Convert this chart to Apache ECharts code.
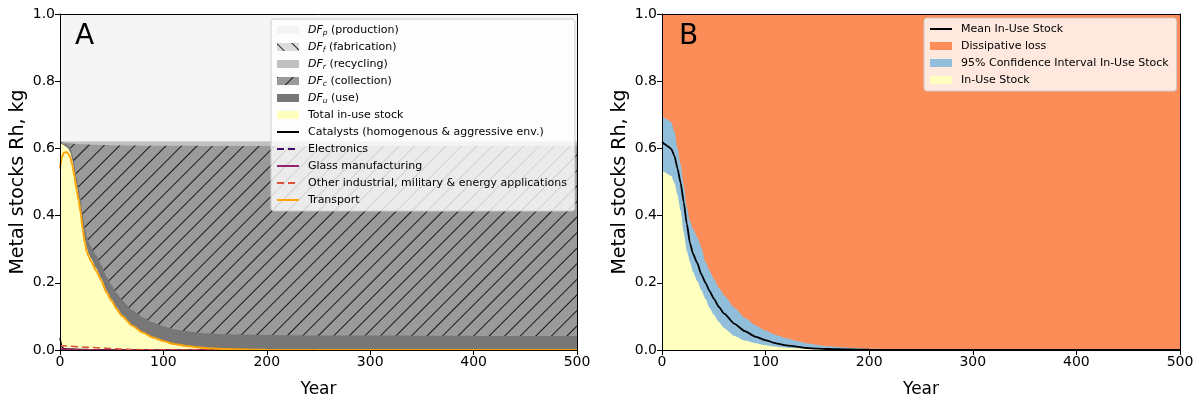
<!DOCTYPE html>
<html><head><meta charset="utf-8">
<script src="https://cdn.jsdelivr.net/npm/echarts@6/dist/echarts.min.js"></script>
<style>html,body{margin:0;padding:0;background:#fff}#c{width:1199px;height:407px}</style>
</head><body><div id="c"></div>
<script>
// ---------- Panel A data ----------
const yearsA = [0,2,4,6,8,10,12,14,16,18,20,22,24,26,28,30,35,40,45,50,55,60,70,80,90,100,110,120,130,140,160,180,200,250,300,400,500];
const totalInUse = [0.615,0.612,0.609,0.605,0.599,0.588,0.565,0.530,0.492,0.458,0.420,0.370,0.330,0.303,0.285,0.272,0.243,0.212,0.177,0.150,0.125,0.104,0.074,0.053,0.038,0.027,0.018,0.013,0.009,0.006,0.003,0.0015,0.0007,0,0,0,0];
const dfUse = [0,0.002,0.004,0.007,0.010,0.013,0.016,0.019,0.022,0.025,0.028,0.030,0.032,0.034,0.035,0.036,0.038,0.040,0.041,0.042,0.043,0.044,0.044,0.044,0.044,0.044,0.044,0.044,0.044,0.044,0.044,0.044,0.044,0.043,0.043,0.042,0.042];
const dfCollection = [0.005,0.005,0.005,0.005,0.007,0.014,0.033,0.065,0.099,0.130,0.164,0.212,0.250,0.275,0.291,0.303,0.330,0.358,0.392,0.417,0.441,0.461,0.491,0.511,0.526,0.537,0.546,0.551,0.555,0.557,0.560,0.5615,0.5623,0.564,0.564,0.565,0.565];
const dfRecycling = [0,0.001,0.002,0.003,0.004,0.005,0.006,0.006,0.007,0.007,0.008,0.008,0.008,0.008,0.009,0.009,0.009,0.010,0.010,0.011,0.011,0.011,0.011,0.012,0.012,0.012,0.012,0.012,0.012,0.013,0.013,0.013,0.013,0.013,0.013,0.013,0.013];
const dfFabrication = [0.002,0.002,0.002,0.002,0.002,0.002,0.002,0.002,0.002,0.002,0.002,0.002,0.002,0.002,0.002,0.002,0.002,0.002,0.002,0.002,0.002,0.002,0.002,0.002,0.002,0.002,0.002,0.002,0.002,0.002,0.002,0.002,0.002,0.002,0.002,0.002,0.002];
const dfProduction = [0.378,0.378,0.378,0.378,0.378,0.378,0.378,0.378,0.378,0.378,0.378,0.378,0.378,0.378,0.378,0.378,0.378,0.378,0.378,0.378,0.378,0.378,0.378,0.378,0.378,0.378,0.378,0.378,0.378,0.378,0.378,0.378,0.378,0.378,0.378,0.378,0.378];
const catalysts = [0.035,0.008,0.004,0.003,0.0025,0.002,0.002,0.002,0.0018,0.0016,0.0015,0.0014,0.0013,0.0012,0.0011,0.001,0.0008,0.0006,0.0005,0.0004,0.0003,0.0002,0.0001,0,0,0,0,0,0,0,0,0,0,0,0,0,0];
const electronics = [0.004,0.003,0.0025,0.002,0.0018,0.0015,0.0012,0.001,0.0008,0.0006,0.0005,0.0004,0.0003,0.0002,0.0001,0,0,0,0,0,0,0,0,0,0,0,0,0,0,0,0,0,0,0,0,0,0];
const glass = [0.003,0.0028,0.0026,0.0024,0.0022,0.002,0.0018,0.0016,0.0014,0.0012,0.001,0.0009,0.0008,0.0007,0.0006,0.0005,0.0003,0.0002,0.0001,0,0,0,0,0,0,0,0,0,0,0,0,0,0,0,0,0,0];
const otherInd = [0.013,0.0127,0.0123,0.012,0.0116,0.0112,0.0108,0.0104,0.01,0.0096,0.0092,0.0088,0.0085,0.0082,0.0079,0.0076,0.0068,0.006,0.0052,0.0044,0.0036,0.0028,0.0016,0.0008,0.0003,0.0001,0,0,0,0,0,0,0,0,0,0,0];
const transport = [0.540,0.577,0.587,0.589,0.585,0.573,0.550,0.515,0.478,0.445,0.408,0.358,0.318,0.292,0.276,0.264,0.236,0.206,0.171,0.146,0.121,0.101,0.072,0.052,0.037,0.027,0.018,0.013,0.009,0.006,0.003,0.0015,0.0007,0,0,0,0];

// ---------- Panel B data ----------
const yearsB = [0,3,6,9,12,15,18,21,24,27,30,34,38,42,46,50,55,60,70,80,90,100,110,120,130,140,150,160,180,200,250,300,400,500];
const meanB = [0.619,0.612,0.605,0.598,0.578,0.540,0.497,0.440,0.375,0.318,0.286,0.259,0.225,0.200,0.175,0.153,0.128,0.108,0.078,0.056,0.040,0.029,0.020,0.014,0.010,0.006,0.004,0.003,0.0015,0.0007,0.0002,0,0,0];
const upperB = [0.699,0.690,0.684,0.678,0.650,0.600,0.553,0.490,0.425,0.383,0.360,0.336,0.305,0.262,0.236,0.212,0.185,0.162,0.126,0.096,0.074,0.058,0.045,0.035,0.027,0.020,0.015,0.011,0.007,0.004,0.001,0.0003,0,0];
const lowerB = [0.535,0.528,0.522,0.518,0.497,0.462,0.415,0.350,0.295,0.262,0.232,0.205,0.178,0.152,0.125,0.105,0.083,0.065,0.042,0.028,0.020,0.014,0.010,0.007,0.005,0.003,0.002,0.0015,0.0008,0.0003,0,0,0,0];

const yTickLabels = ['0.0','0.2','0.4','0.6','0.8','1.0'];

// ---------- build ----------
const FONT = 'DejaVu Sans';
function cumulate(layers){
  const out = []; let run = layers[0].map(()=>0);
  layers.forEach(l => { run = run.map((v,i)=>v + l[i]); out.push(run); });
  return out;
}
const cumA = cumulate([totalInUse, dfUse, dfCollection, dfRecycling, dfFabrication, dfProduction]);
const lossB = upperB.map(u => 1 - u);
const topB = upperB.map((u,i) => u + lossB[i]);

const pairs = (xs, ys) => xs.map((x,i)=>[x, ys[i]]);
const hatch = (rot) => ({symbol:'rect', symbolSize:1, dashArrayX:[1,0], dashArrayY:[1,9.6], rotation:rot, color:'rgba(0,0,0,0.85)'});

function areaSeries(name, g, xs, ys, color, decal){
  const s = {name, type:'line', xAxisIndex:g*2, yAxisIndex:g*2, data:pairs(xs,ys), symbol:'none',
    smooth:0.2, smoothMonotone:'x', lineStyle:{width:0, color},
    itemStyle:{color}, areaStyle:{color, opacity:1}, emphasis:{disabled:true}, silent:true, z:2};
  if (decal) s.itemStyle.decal = decal;
  return s;
}
function lineSeries(name, g, xs, ys, color, width, type){
  return {name, type:'line', xAxisIndex:g*2, yAxisIndex:g*2, data:pairs(xs,ys), symbol:'none',
    smooth:0.2, smoothMonotone:'x', lineStyle:{width, color, type:type||'solid'},
    itemStyle:{color}, emphasis:{disabled:true}, silent:true, z:3};
}

const xAxes = [], yAxes = [];
[0,1].forEach(g => {
  xAxes.push({type:'value', gridIndex:g, min:0, max:500, interval:100, z:10,
    axisLine:{show:true, onZero:false, lineStyle:{color:'#000', width:1}},
    axisTick:{show:true, length:5, lineStyle:{color:'#000'}},
    axisLabel:{color:'#000', fontSize:14, fontFamily:FONT, margin:5},
    splitLine:{show:false},
    name:'Year', nameLocation:'middle', nameGap:31, nameTextStyle:{fontSize:17, color:'#000', fontFamily:FONT}});
  xAxes.push({type:'value', gridIndex:g, position:'top', min:0, max:500, z:10,
    axisLine:{show:true, onZero:false, lineStyle:{color:'#000', width:1}},
    axisTick:{show:false}, axisLabel:{show:false}, splitLine:{show:false}});
  yAxes.push({type:'value', gridIndex:g, min:0, max:1, interval:0.2, z:10,
    axisLine:{show:true, onZero:false, lineStyle:{color:'#000', width:1}},
    axisTick:{show:true, length:5, lineStyle:{color:'#000'}},
    axisLabel:{color:'#000', fontSize:14, fontFamily:FONT, margin:5,
      formatter:(v)=>yTickLabels[Math.round(v/0.2)]},
    splitLine:{show:false},
    name:'Metal stocks Rh, kg', nameLocation:'middle', nameGap:32, nameTextStyle:{fontSize:19, color:'#000', fontFamily:FONT}});
  yAxes.push({type:'value', gridIndex:g, position:'right', min:0, max:1, z:10,
    axisLine:{show:true, onZero:false, lineStyle:{color:'#000', width:1}},
    axisTick:{show:false}, axisLabel:{show:false}, splitLine:{show:false}});
});

const FS = 11;
const labelMap = {
  'DFp':'{i|DF}{s|p}{t| (production)}',
  'DFf':'{i|DF}{s|f}{t| (fabrication)}',
  'DFr':'{i|DF}{s|r}{t| (recycling)}',
  'DFc':'{i|DF}{s|c}{t| (collection)}',
  'DFu':'{i|DF}{s|u}{t| (use)}'
};
const rich = {
  i:{fontStyle:'italic', fontSize:FS, fontFamily:FONT, color:'#000', lineHeight:14},
  s:{fontStyle:'italic', fontSize:7.5, fontFamily:FONT, color:'#000', verticalAlign:'bottom', lineHeight:14, padding:[3,0,0,0]},
  t:{fontSize:FS, fontFamily:FONT, color:'#000', lineHeight:14}
};
const legendBase = {orient:'vertical', itemWidth:22, itemHeight:8, itemGap:3, selectedMode:false,
  backgroundColor:'rgba(255,255,255,0.8)', borderColor:'#cccccc', borderWidth:1, borderRadius:3,
  padding:[4,8,4,5], z:20,
  textStyle:{fontFamily:FONT, fontSize:FS, color:'#000', lineHeight:14, padding:[0,0,0,4], rich}};
const noSym = {opacity:0};
const DASH = [7,4];

const option = {
  animation:false,
  backgroundColor:'#ffffff',
  textStyle:{fontFamily:FONT},
  title:[
    {text:'A', left:75, top:23, padding:0, textStyle:{fontSize:28, fontWeight:'normal', color:'#000', fontFamily:FONT}},
    {text:'B', left:679, top:23, padding:0, textStyle:{fontSize:28, fontWeight:'normal', color:'#000', fontFamily:FONT}}
  ],
  grid:[
    {left:60, top:14, width:517, height:336, containLabel:false, outerBoundsMode:'none'},
    {left:662, top:14, width:518, height:336, containLabel:false, outerBoundsMode:'none'}
  ],
  xAxis:xAxes, yAxis:yAxes,
  legend:[
    Object.assign({}, legendBase, {left:271, top:19,
      formatter:(n)=>labelMap[n] || n,
      data:[{name:'DFp', icon:'rect'},{name:'DFf', icon:'rect', itemStyle:{decal:hatch(Math.PI/4)}},{name:'DFr', icon:'rect'},{name:'DFc', icon:'rect'},{name:'DFu', icon:'rect'},
        {name:'Total in-use stock', icon:'rect'},
        {name:'Catalysts (homogenous & aggressive env.)', itemStyle:noSym},
        {name:'Electronics', itemStyle:noSym},
        {name:'Glass manufacturing', itemStyle:noSym},
        {name:'Other industrial, military & energy applications', itemStyle:noSym},
        {name:'Transport', itemStyle:noSym}]}),
    Object.assign({}, legendBase, {left:924, top:18,
      data:[{name:'Mean In-Use Stock', itemStyle:noSym},{name:'Dissipative loss', icon:'rect'},{name:'95% Confidence Interval In-Use Stock', icon:'rect'},{name:'In-Use Stock', icon:'rect'}]})
  ],
  series:[
    areaSeries('DFp', 0, yearsA, cumA[5], '#f5f5f5'),
    areaSeries('DFf', 0, yearsA, cumA[4], '#dcdcdc'),
    areaSeries('DFr', 0, yearsA, cumA[3], '#c0c0c0'),
    areaSeries('DFc', 0, yearsA, cumA[2], '#9a9a9a', hatch(-Math.PI/4)),
    areaSeries('DFu', 0, yearsA, cumA[1], '#777777'),
    areaSeries('Total in-use stock', 0, yearsA, cumA[0], '#ffffc0'),
    lineSeries('Catalysts (homogenous & aggressive env.)', 0, yearsA, catalysts, '#000000', 1.5),
    lineSeries('Electronics', 0, yearsA, electronics, '#420a68', 1.5, DASH),
    lineSeries('Glass manufacturing', 0, yearsA, glass, '#932667', 1.5),
    lineSeries('Other industrial, military & energy applications', 0, yearsA, otherInd, '#dd513a', 1.5, DASH),
    lineSeries('Transport', 0, yearsA, transport, '#fca50a', 2),

    areaSeries('Dissipative loss', 1, yearsB, topB, '#fc8d59'),
    areaSeries('95% Confidence Interval In-Use Stock', 1, yearsB, upperB, '#91bfdb'),
    areaSeries('In-Use Stock', 1, yearsB, lowerB, '#ffffbf'),
    lineSeries('Mean In-Use Stock', 1, yearsB, meanB, '#000000', 1.8)
  ]
};
const chart = echarts.init(document.getElementById('c'), null, {renderer:'canvas'});
chart.setOption(option);
</script></body></html>
